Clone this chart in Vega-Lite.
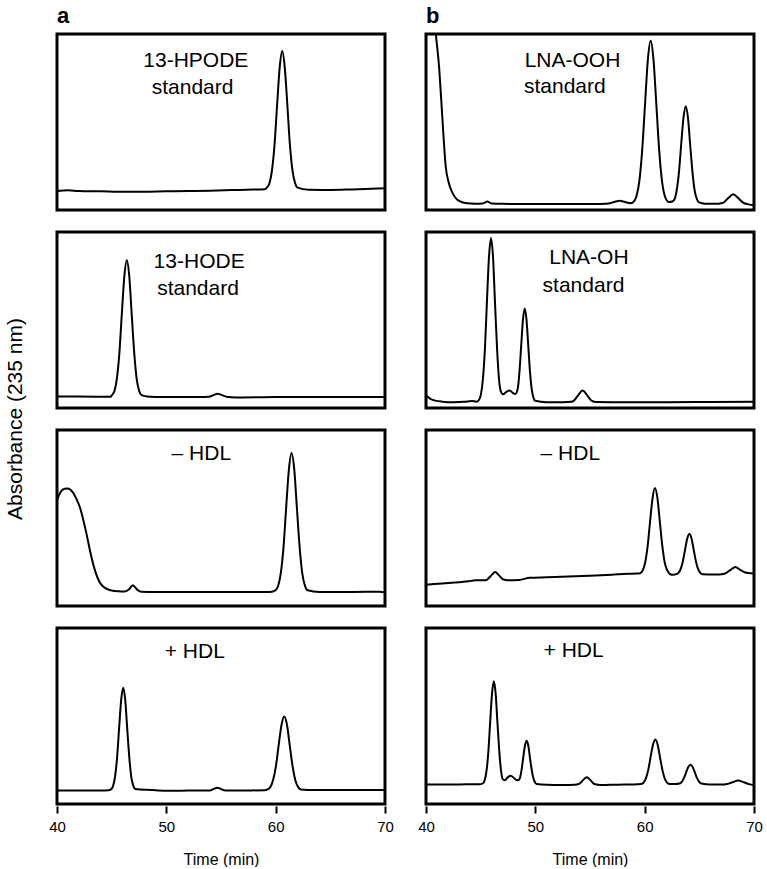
{
"$schema": "https://vega.github.io/schema/vega-lite/v6.json",
"background": "white",
"padding": {"left": 4, "top": 5, "right": 8, "bottom": 0},
"config": {
  "font": "Liberation Sans",
  "view": {"stroke": "black", "strokeWidth": 3},
  "axisX": {"domain": false, "grid": false, "ticks": true, "tickColor": "black", "tickSize": 7, "tickWidth": 2, "labelFontSize": 15, "labelColor": "black", "labelPadding": 6, "labelFlush": false, "titleFontSize": 16, "titleFontWeight": "normal", "titleColor": "black", "titlePadding": 17}
},
"data": {"values": [
{"r":1,"c":"a","t":40,"a":0.108},{"r":1,"c":"a","t":41,"a":0.112},{"r":1,"c":"a","t":42,"a":0.108},{"r":1,"c":"a","t":44,"a":0.106},{"r":1,"c":"a","t":46,"a":0.103},{"r":1,"c":"a","t":48,"a":0.104},{"r":1,"c":"a","t":50,"a":0.106},{"r":1,"c":"a","t":52,"a":0.108},{"r":1,"c":"a","t":54,"a":0.110},{"r":1,"c":"a","t":56,"a":0.113},{"r":1,"c":"a","t":58,"a":0.116},{"r":1,"c":"a","t":59,"a":0.118},{"r":1,"c":"a","t":59.19,"a":0.127},{"r":1,"c":"a","t":59.43,"a":0.152},{"r":1,"c":"a","t":59.66,"a":0.224},{"r":1,"c":"a","t":59.9,"a":0.373},{"r":1,"c":"a","t":60.13,"a":0.595},{"r":1,"c":"a","t":60.37,"a":0.812},{"r":1,"c":"a","t":60.6,"a":0.904},{"r":1,"c":"a","t":60.83,"a":0.812},{"r":1,"c":"a","t":61.07,"a":0.595},{"r":1,"c":"a","t":61.3,"a":0.373},{"r":1,"c":"a","t":61.54,"a":0.224},{"r":1,"c":"a","t":61.78,"a":0.152},{"r":1,"c":"a","t":62.01,"a":0.127},{"r":1,"c":"a","t":63,"a":0.115},{"r":1,"c":"a","t":65,"a":0.114},{"r":1,"c":"a","t":67,"a":0.117},{"r":1,"c":"a","t":70,"a":0.123},
{"r":1,"c":"b","t":40,"a":1.9},{"r":1,"c":"b","t":40.4,"a":1.45},{"r":1,"c":"b","t":40.7,"a":1.15},{"r":1,"c":"b","t":40.9,"a":1.0},{"r":1,"c":"b","t":41.2,"a":0.81},{"r":1,"c":"b","t":41.4,"a":0.62},{"r":1,"c":"b","t":41.6,"a":0.42},{"r":1,"c":"b","t":41.8,"a":0.25},{"r":1,"c":"b","t":42.1,"a":0.15},{"r":1,"c":"b","t":42.4,"a":0.1},{"r":1,"c":"b","t":42.8,"a":0.062},{"r":1,"c":"b","t":43.2,"a":0.047},{"r":1,"c":"b","t":43.6,"a":0.04},{"r":1,"c":"b","t":44.5,"a":0.036},{"r":1,"c":"b","t":45.2,"a":0.037},{"r":1,"c":"b","t":45.6,"a":0.048},{"r":1,"c":"b","t":46,"a":0.037},{"r":1,"c":"b","t":47,"a":0.035},{"r":1,"c":"b","t":49,"a":0.034},{"r":1,"c":"b","t":51,"a":0.034},{"r":1,"c":"b","t":53,"a":0.034},{"r":1,"c":"b","t":55,"a":0.034},{"r":1,"c":"b","t":56.5,"a":0.036},{"r":1,"c":"b","t":57.2,"a":0.045},{"r":1,"c":"b","t":57.7,"a":0.052},{"r":1,"c":"b","t":58.2,"a":0.045},{"r":1,"c":"b","t":58.7,"a":0.038},{"r":1,"c":"b","t":58.99,"a":0.047},{"r":1,"c":"b","t":59.25,"a":0.078},{"r":1,"c":"b","t":59.51,"a":0.162},{"r":1,"c":"b","t":59.77,"a":0.337},{"r":1,"c":"b","t":60.03,"a":0.597},{"r":1,"c":"b","t":60.29,"a":0.852},{"r":1,"c":"b","t":60.55,"a":0.961},{"r":1,"c":"b","t":60.81,"a":0.852},{"r":1,"c":"b","t":61.07,"a":0.597},{"r":1,"c":"b","t":61.33,"a":0.337},{"r":1,"c":"b","t":61.59,"a":0.162},{"r":1,"c":"b","t":61.85,"a":0.078},{"r":1,"c":"b","t":62.2,"a":0.045},{"r":1,"c":"b","t":62.52,"a":0.048},{"r":1,"c":"b","t":62.73,"a":0.061},{"r":1,"c":"b","t":62.93,"a":0.112},{"r":1,"c":"b","t":63.14,"a":0.217},{"r":1,"c":"b","t":63.34,"a":0.372},{"r":1,"c":"b","t":63.55,"a":0.525},{"r":1,"c":"b","t":63.75,"a":0.59},{"r":1,"c":"b","t":63.96,"a":0.525},{"r":1,"c":"b","t":64.16,"a":0.372},{"r":1,"c":"b","t":64.37,"a":0.217},{"r":1,"c":"b","t":64.57,"a":0.112},{"r":1,"c":"b","t":64.78,"a":0.061},{"r":1,"c":"b","t":64.98,"a":0.043},{"r":1,"c":"b","t":65.5,"a":0.036},{"r":1,"c":"b","t":66.5,"a":0.035},{"r":1,"c":"b","t":67,"a":0.038},{"r":1,"c":"b","t":67.2,"a":0.042},{"r":1,"c":"b","t":67.65,"a":0.068},{"r":1,"c":"b","t":68.1,"a":0.09},{"r":1,"c":"b","t":68.55,"a":0.068},{"r":1,"c":"b","t":69,"a":0.042},{"r":1,"c":"b","t":69.5,"a":0.032},{"r":1,"c":"b","t":70,"a":0.027},
{"r":2,"c":"a","t":40,"a":0.066},{"r":2,"c":"a","t":42,"a":0.065},{"r":2,"c":"a","t":44,"a":0.064},{"r":2,"c":"a","t":44.9,"a":0.064},{"r":2,"c":"a","t":45.03,"a":0.073},{"r":2,"c":"a","t":45.26,"a":0.098},{"r":2,"c":"a","t":45.48,"a":0.169},{"r":2,"c":"a","t":45.71,"a":0.316},{"r":2,"c":"a","t":45.93,"a":0.535},{"r":2,"c":"a","t":46.16,"a":0.749},{"r":2,"c":"a","t":46.38,"a":0.84},{"r":2,"c":"a","t":46.61,"a":0.749},{"r":2,"c":"a","t":46.83,"a":0.535},{"r":2,"c":"a","t":47.06,"a":0.316},{"r":2,"c":"a","t":47.28,"a":0.169},{"r":2,"c":"a","t":47.51,"a":0.098},{"r":2,"c":"a","t":47.73,"a":0.073},{"r":2,"c":"a","t":48.2,"a":0.066},{"r":2,"c":"a","t":49,"a":0.063},{"r":2,"c":"a","t":51,"a":0.062},{"r":2,"c":"a","t":53,"a":0.062},{"r":2,"c":"a","t":53.9,"a":0.064},{"r":2,"c":"a","t":54.3,"a":0.073},{"r":2,"c":"a","t":54.7,"a":0.081},{"r":2,"c":"a","t":55.1,"a":0.073},{"r":2,"c":"a","t":55.6,"a":0.063},{"r":2,"c":"a","t":57,"a":0.06},{"r":2,"c":"a","t":60,"a":0.062},{"r":2,"c":"a","t":63,"a":0.063},{"r":2,"c":"a","t":66,"a":0.062},{"r":2,"c":"a","t":68,"a":0.063},{"r":2,"c":"a","t":70,"a":0.062},
{"r":2,"c":"b","t":40,"a":0.072},{"r":2,"c":"b","t":40.4,"a":0.052},{"r":2,"c":"b","t":40.85,"a":0.042},{"r":2,"c":"b","t":41.5,"a":0.036},{"r":2,"c":"b","t":42.5,"a":0.033},{"r":2,"c":"b","t":43.5,"a":0.035},{"r":2,"c":"b","t":44.2,"a":0.04},{"r":2,"c":"b","t":44.6,"a":0.036},{"r":2,"c":"b","t":44.83,"a":0.045},{"r":2,"c":"b","t":45.02,"a":0.076},{"r":2,"c":"b","t":45.2,"a":0.161},{"r":2,"c":"b","t":45.39,"a":0.337},{"r":2,"c":"b","t":45.57,"a":0.6},{"r":2,"c":"b","t":45.76,"a":0.857},{"r":2,"c":"b","t":45.94,"a":0.966},{"r":2,"c":"b","t":46.13,"a":0.857},{"r":2,"c":"b","t":46.31,"a":0.6},{"r":2,"c":"b","t":46.5,"a":0.337},{"r":2,"c":"b","t":46.68,"a":0.161},{"r":2,"c":"b","t":46.87,"a":0.09},{"r":2,"c":"b","t":47.05,"a":0.078},{"r":2,"c":"b","t":47.35,"a":0.092},{"r":2,"c":"b","t":47.67,"a":0.099},{"r":2,"c":"b","t":47.95,"a":0.085},{"r":2,"c":"b","t":48.15,"a":0.08},{"r":2,"c":"b","t":48.39,"a":0.11},{"r":2,"c":"b","t":48.55,"a":0.207},{"r":2,"c":"b","t":48.71,"a":0.357},{"r":2,"c":"b","t":48.87,"a":0.504},{"r":2,"c":"b","t":49.03,"a":0.566},{"r":2,"c":"b","t":49.19,"a":0.504},{"r":2,"c":"b","t":49.35,"a":0.357},{"r":2,"c":"b","t":49.51,"a":0.207},{"r":2,"c":"b","t":49.67,"a":0.107},{"r":2,"c":"b","t":49.83,"a":0.058},{"r":2,"c":"b","t":49.99,"a":0.041},{"r":2,"c":"b","t":51,"a":0.033},{"r":2,"c":"b","t":52.5,"a":0.033},{"r":2,"c":"b","t":53.3,"a":0.035},{"r":2,"c":"b","t":53.53,"a":0.042},{"r":2,"c":"b","t":53.93,"a":0.073},{"r":2,"c":"b","t":54.33,"a":0.099},{"r":2,"c":"b","t":54.73,"a":0.073},{"r":2,"c":"b","t":55.13,"a":0.042},{"r":2,"c":"b","t":55.6,"a":0.034},{"r":2,"c":"b","t":58,"a":0.033},{"r":2,"c":"b","t":62,"a":0.033},{"r":2,"c":"b","t":66,"a":0.034},{"r":2,"c":"b","t":70,"a":0.035},
{"r":3,"c":"a","t":40,"a":0.6},{"r":3,"c":"a","t":40.3,"a":0.645},{"r":3,"c":"a","t":40.7,"a":0.666},{"r":3,"c":"a","t":41,"a":0.668},{"r":3,"c":"a","t":41.4,"a":0.65},{"r":3,"c":"a","t":41.8,"a":0.605},{"r":3,"c":"a","t":42.1,"a":0.56},{"r":3,"c":"a","t":42.4,"a":0.49},{"r":3,"c":"a","t":42.7,"a":0.41},{"r":3,"c":"a","t":43,"a":0.32},{"r":3,"c":"a","t":43.3,"a":0.24},{"r":3,"c":"a","t":43.6,"a":0.178},{"r":3,"c":"a","t":43.9,"a":0.135},{"r":3,"c":"a","t":44.2,"a":0.112},{"r":3,"c":"a","t":44.6,"a":0.096},{"r":3,"c":"a","t":45.1,"a":0.087},{"r":3,"c":"a","t":45.6,"a":0.084},{"r":3,"c":"a","t":46.2,"a":0.083},{"r":3,"c":"a","t":46.6,"a":0.095},{"r":3,"c":"a","t":46.93,"a":0.118},{"r":3,"c":"a","t":47.3,"a":0.095},{"r":3,"c":"a","t":47.7,"a":0.081},{"r":3,"c":"a","t":49,"a":0.08},{"r":3,"c":"a","t":52,"a":0.08},{"r":3,"c":"a","t":55,"a":0.08},{"r":3,"c":"a","t":58,"a":0.08},{"r":3,"c":"a","t":59.5,"a":0.08},{"r":3,"c":"a","t":59.98,"a":0.089},{"r":3,"c":"a","t":60.23,"a":0.115},{"r":3,"c":"a","t":60.47,"a":0.187},{"r":3,"c":"a","t":60.72,"a":0.336},{"r":3,"c":"a","t":60.96,"a":0.559},{"r":3,"c":"a","t":61.21,"a":0.776},{"r":3,"c":"a","t":61.45,"a":0.869},{"r":3,"c":"a","t":61.7,"a":0.776},{"r":3,"c":"a","t":61.94,"a":0.559},{"r":3,"c":"a","t":62.19,"a":0.336},{"r":3,"c":"a","t":62.43,"a":0.187},{"r":3,"c":"a","t":62.68,"a":0.115},{"r":3,"c":"a","t":62.92,"a":0.089},{"r":3,"c":"a","t":64,"a":0.08},{"r":3,"c":"a","t":67,"a":0.08},{"r":3,"c":"a","t":69.5,"a":0.081},{"r":3,"c":"a","t":70,"a":0.078},
{"r":3,"c":"b","t":40,"a":0.121},{"r":3,"c":"b","t":41.5,"a":0.128},{"r":3,"c":"b","t":43,"a":0.135},{"r":3,"c":"b","t":43.9,"a":0.14},{"r":3,"c":"b","t":44.5,"a":0.146},{"r":3,"c":"b","t":45.5,"a":0.146},{"r":3,"c":"b","t":45.63,"a":0.152},{"r":3,"c":"b","t":45.98,"a":0.174},{"r":3,"c":"b","t":46.33,"a":0.193},{"r":3,"c":"b","t":46.68,"a":0.174},{"r":3,"c":"b","t":47.03,"a":0.152},{"r":3,"c":"b","t":47.5,"a":0.146},{"r":3,"c":"b","t":48.5,"a":0.148},{"r":3,"c":"b","t":49.5,"a":0.16},{"r":3,"c":"b","t":51,"a":0.163},{"r":3,"c":"b","t":53,"a":0.167},{"r":3,"c":"b","t":55,"a":0.172},{"r":3,"c":"b","t":57,"a":0.178},{"r":3,"c":"b","t":58.5,"a":0.183},{"r":3,"c":"b","t":59.3,"a":0.184},{"r":3,"c":"b","t":59.59,"a":0.186},{"r":3,"c":"b","t":59.82,"a":0.202},{"r":3,"c":"b","t":60.04,"a":0.246},{"r":3,"c":"b","t":60.27,"a":0.339},{"r":3,"c":"b","t":60.49,"a":0.477},{"r":3,"c":"b","t":60.72,"a":0.612},{"r":3,"c":"b","t":60.94,"a":0.67},{"r":3,"c":"b","t":61.17,"a":0.612},{"r":3,"c":"b","t":61.39,"a":0.477},{"r":3,"c":"b","t":61.62,"a":0.339},{"r":3,"c":"b","t":61.84,"a":0.246},{"r":3,"c":"b","t":62.07,"a":0.202},{"r":3,"c":"b","t":62.29,"a":0.183},{"r":3,"c":"b","t":62.6,"a":0.177},{"r":3,"c":"b","t":62.89,"a":0.181},{"r":3,"c":"b","t":63.09,"a":0.188},{"r":3,"c":"b","t":63.29,"a":0.209},{"r":3,"c":"b","t":63.49,"a":0.253},{"r":3,"c":"b","t":63.69,"a":0.318},{"r":3,"c":"b","t":63.89,"a":0.382},{"r":3,"c":"b","t":64.09,"a":0.409},{"r":3,"c":"b","t":64.29,"a":0.382},{"r":3,"c":"b","t":64.49,"a":0.318},{"r":3,"c":"b","t":64.69,"a":0.253},{"r":3,"c":"b","t":64.89,"a":0.209},{"r":3,"c":"b","t":65.09,"a":0.188},{"r":3,"c":"b","t":65.29,"a":0.181},{"r":3,"c":"b","t":66.5,"a":0.179},{"r":3,"c":"b","t":67.2,"a":0.182},{"r":3,"c":"b","t":67.4,"a":0.186},{"r":3,"c":"b","t":67.85,"a":0.205},{"r":3,"c":"b","t":68.3,"a":0.222},{"r":3,"c":"b","t":68.75,"a":0.205},{"r":3,"c":"b","t":69.2,"a":0.19},{"r":3,"c":"b","t":69.7,"a":0.186},{"r":3,"c":"b","t":70,"a":0.185},
{"r":4,"c":"a","t":40,"a":0.077},{"r":4,"c":"a","t":42,"a":0.077},{"r":4,"c":"a","t":44,"a":0.077},{"r":4,"c":"a","t":44.7,"a":0.078},{"r":4,"c":"a","t":44.94,"a":0.083},{"r":4,"c":"a","t":45.13,"a":0.103},{"r":4,"c":"a","t":45.31,"a":0.156},{"r":4,"c":"a","t":45.5,"a":0.267},{"r":4,"c":"a","t":45.68,"a":0.431},{"r":4,"c":"a","t":45.87,"a":0.592},{"r":4,"c":"a","t":46.05,"a":0.661},{"r":4,"c":"a","t":46.24,"a":0.592},{"r":4,"c":"a","t":46.42,"a":0.431},{"r":4,"c":"a","t":46.61,"a":0.267},{"r":4,"c":"a","t":46.79,"a":0.156},{"r":4,"c":"a","t":46.98,"a":0.103},{"r":4,"c":"a","t":47.16,"a":0.085},{"r":4,"c":"a","t":47.6,"a":0.082},{"r":4,"c":"a","t":48.3,"a":0.081},{"r":4,"c":"a","t":49.2,"a":0.077},{"r":4,"c":"a","t":50,"a":0.075},{"r":4,"c":"a","t":52,"a":0.076},{"r":4,"c":"a","t":54,"a":0.077},{"r":4,"c":"a","t":54.3,"a":0.085},{"r":4,"c":"a","t":54.67,"a":0.093},{"r":4,"c":"a","t":55,"a":0.085},{"r":4,"c":"a","t":55.4,"a":0.077},{"r":4,"c":"a","t":57,"a":0.077},{"r":4,"c":"a","t":59,"a":0.078},{"r":4,"c":"a","t":59.25,"a":0.083},{"r":4,"c":"a","t":59.51,"a":0.096},{"r":4,"c":"a","t":59.76,"a":0.135},{"r":4,"c":"a","t":60.02,"a":0.214},{"r":4,"c":"a","t":60.27,"a":0.332},{"r":4,"c":"a","t":60.53,"a":0.448},{"r":4,"c":"a","t":60.78,"a":0.497},{"r":4,"c":"a","t":61.04,"a":0.448},{"r":4,"c":"a","t":61.29,"a":0.332},{"r":4,"c":"a","t":61.55,"a":0.214},{"r":4,"c":"a","t":61.8,"a":0.135},{"r":4,"c":"a","t":62.06,"a":0.096},{"r":4,"c":"a","t":62.31,"a":0.083},{"r":4,"c":"a","t":63.5,"a":0.079},{"r":4,"c":"a","t":66,"a":0.079},{"r":4,"c":"a","t":68,"a":0.079},{"r":4,"c":"a","t":70,"a":0.08},
{"r":4,"c":"b","t":40,"a":0.111},{"r":4,"c":"b","t":42,"a":0.111},{"r":4,"c":"b","t":44,"a":0.112},{"r":4,"c":"b","t":44.9,"a":0.112},{"r":4,"c":"b","t":45.21,"a":0.118},{"r":4,"c":"b","t":45.38,"a":0.138},{"r":4,"c":"b","t":45.54,"a":0.191},{"r":4,"c":"b","t":45.71,"a":0.302},{"r":4,"c":"b","t":45.87,"a":0.467},{"r":4,"c":"b","t":46.04,"a":0.628},{"r":4,"c":"b","t":46.2,"a":0.697},{"r":4,"c":"b","t":46.37,"a":0.628},{"r":4,"c":"b","t":46.53,"a":0.467},{"r":4,"c":"b","t":46.7,"a":0.302},{"r":4,"c":"b","t":46.86,"a":0.191},{"r":4,"c":"b","t":47.03,"a":0.14},{"r":4,"c":"b","t":47.2,"a":0.135},{"r":4,"c":"b","t":47.45,"a":0.15},{"r":4,"c":"b","t":47.74,"a":0.161},{"r":4,"c":"b","t":48.05,"a":0.148},{"r":4,"c":"b","t":48.3,"a":0.135},{"r":4,"c":"b","t":48.43,"a":0.135},{"r":4,"c":"b","t":48.58,"a":0.146},{"r":4,"c":"b","t":48.74,"a":0.193},{"r":4,"c":"b","t":48.89,"a":0.262},{"r":4,"c":"b","t":49.05,"a":0.331},{"r":4,"c":"b","t":49.2,"a":0.36},{"r":4,"c":"b","t":49.36,"a":0.331},{"r":4,"c":"b","t":49.51,"a":0.262},{"r":4,"c":"b","t":49.67,"a":0.193},{"r":4,"c":"b","t":49.82,"a":0.146},{"r":4,"c":"b","t":49.98,"a":0.122},{"r":4,"c":"b","t":50.13,"a":0.114},{"r":4,"c":"b","t":51,"a":0.109},{"r":4,"c":"b","t":52.5,"a":0.108},{"r":4,"c":"b","t":53.6,"a":0.109},{"r":4,"c":"b","t":54,"a":0.114},{"r":4,"c":"b","t":54.35,"a":0.135},{"r":4,"c":"b","t":54.7,"a":0.152},{"r":4,"c":"b","t":55.05,"a":0.135},{"r":4,"c":"b","t":55.4,"a":0.114},{"r":4,"c":"b","t":56,"a":0.108},{"r":4,"c":"b","t":57.5,"a":0.11},{"r":4,"c":"b","t":59,"a":0.111},{"r":4,"c":"b","t":59.68,"a":0.114},{"r":4,"c":"b","t":59.9,"a":0.122},{"r":4,"c":"b","t":60.11,"a":0.146},{"r":4,"c":"b","t":60.33,"a":0.194},{"r":4,"c":"b","t":60.54,"a":0.266},{"r":4,"c":"b","t":60.76,"a":0.337},{"r":4,"c":"b","t":60.97,"a":0.367},{"r":4,"c":"b","t":61.19,"a":0.337},{"r":4,"c":"b","t":61.4,"a":0.266},{"r":4,"c":"b","t":61.62,"a":0.194},{"r":4,"c":"b","t":61.83,"a":0.146},{"r":4,"c":"b","t":62.05,"a":0.122},{"r":4,"c":"b","t":62.26,"a":0.114},{"r":4,"c":"b","t":62.8,"a":0.113},{"r":4,"c":"b","t":63.19,"a":0.116},{"r":4,"c":"b","t":63.39,"a":0.126},{"r":4,"c":"b","t":63.59,"a":0.147},{"r":4,"c":"b","t":63.79,"a":0.179},{"r":4,"c":"b","t":63.99,"a":0.21},{"r":4,"c":"b","t":64.19,"a":0.223},{"r":4,"c":"b","t":64.39,"a":0.21},{"r":4,"c":"b","t":64.59,"a":0.179},{"r":4,"c":"b","t":64.79,"a":0.147},{"r":4,"c":"b","t":64.99,"a":0.126},{"r":4,"c":"b","t":65.19,"a":0.116},{"r":4,"c":"b","t":66,"a":0.111},{"r":4,"c":"b","t":67,"a":0.111},{"r":4,"c":"b","t":67.55,"a":0.114},{"r":4,"c":"b","t":68.05,"a":0.124},{"r":4,"c":"b","t":68.55,"a":0.133},{"r":4,"c":"b","t":69.05,"a":0.124},{"r":4,"c":"b","t":69.55,"a":0.113},{"r":4,"c":"b","t":70,"a":0.108},
{"r":1,"c":"a","t":52.7,"a":0.81,"label":"13-HPODE"},{"r":1,"c":"a","t":52.4,"a":0.66,"label":"standard"},
{"r":1,"c":"b","t":53.4,"a":0.81,"label":"LNA-OOH"},{"r":1,"c":"b","t":52.7,"a":0.665,"label":"standard"},
{"r":2,"c":"a","t":53.0,"a":0.794,"label":"13-HODE"},{"r":2,"c":"a","t":52.9,"a":0.642,"label":"standard"},
{"r":2,"c":"b","t":54.9,"a":0.819,"label":"LNA-OH"},{"r":2,"c":"b","t":54.4,"a":0.661,"label":"standard"},
{"r":3,"c":"a","t":53.2,"a":0.828,"label":"– HDL"},
{"r":3,"c":"b","t":53.2,"a":0.828,"label":"– HDL"},
{"r":4,"c":"a","t":52.6,"a":0.83,"label":"+ HDL"},
{"r":4,"c":"b","t":53.5,"a":0.837,"label":"+ HDL"}
]},
"facet": {
  "row": {"field": "r", "type": "ordinal", "header": {"labels": false, "title": "Absorbance (235 nm)", "titleFontSize": 21, "titleFontWeight": "normal", "titleColor": "black", "titleOrient": "left", "titlePadding": 19}},
  "column": {"field": "c", "type": "nominal", "header": {"title": null, "labelFontSize": 22, "labelFontWeight": "bold", "labelColor": "black", "labelAnchor": "start", "labelAlign": "left", "labelPadding": 4}}
},
"spacing": {"row": 18, "column": 37},
"spec": {
  "width": 328,
  "height": 176,
  "encoding": {
    "x": {"field": "t", "type": "quantitative", "title": "Time (min)", "axis": {"values": [40, 50, 60, 70]}, "scale": {"domain": [40, 70], "nice": false, "zero": false}},
    "y": {"field": "a", "type": "quantitative", "axis": null, "scale": {"domain": [0, 1], "nice": false, "zero": false}}
  },
  "layer": [
    {"transform": [{"filter": "!isValid(datum.label)"}], "mark": {"type": "line", "color": "black", "strokeWidth": 2, "interpolate": "monotone", "clip": true}},
    {"transform": [{"filter": "isValid(datum.label)"}], "mark": {"type": "text", "fontSize": 21, "color": "black", "align": "center", "baseline": "alphabetic"}, "encoding": {"text": {"field": "label"}}}
  ]
}
}
